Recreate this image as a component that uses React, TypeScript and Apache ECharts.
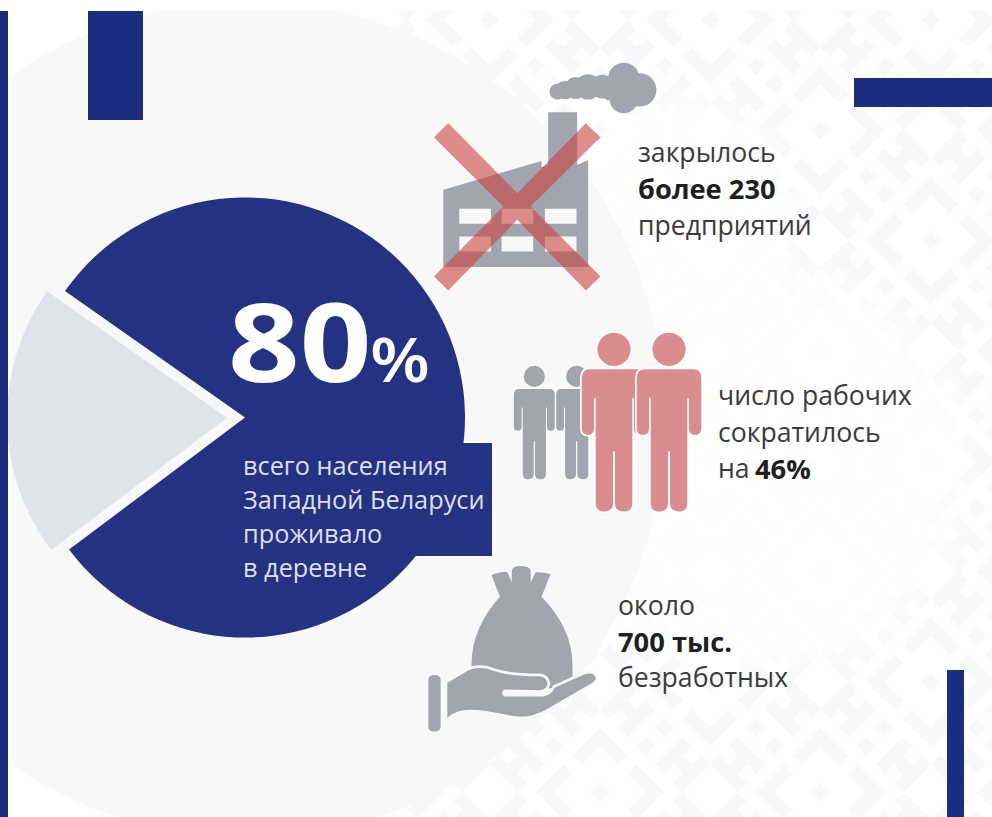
import React, { useEffect, useRef } from "react";
import * as echarts from "echarts";

const sharesLabels = ["в деревне", "в городе"];
const sharesValues = [80, 20];
const bigNumber = "80";
const bigUnit = "%";
const ruralLines = ["всего населения", "Западной Беларуси", "проживало", "в деревне"];
const factoryLines = ["закрылось", "более 230", "предприятий"];
const workersLines = ["число рабочих", "сократилось"];
const workersLast = ["на", "46%"];
const jobLines = ["около", "700 тыс.", "безработных"];

const NAVY = "#1b2d7e";
const PIE = "#253282";
const GREY = "#a2a5ae";
const PINK = "#da8d8e";
const FONT = "'Open Sans'";

const circ = (cx: number, cy: number, r: number) =>
  `M ${cx - r} ${cy} A ${r} ${r} 0 1 0 ${cx + r} ${cy} A ${r} ${r} 0 1 0 ${cx - r} ${cy} Z `;

const personD =
  circ(0, 88, 50) +
  "M -72 148 Q -97 148 -97 175 L -97 325 Q -97 345 -78 345 Q -60 345 -60 325 L -60 235 L -55 235 L -55 550 Q -55 575 -30 575 Q -3 575 -3 550 L -3 395 L 3 395 L 3 550 Q 3 575 30 575 Q 55 575 55 550 L 55 235 L 60 235 L 60 325 Q 60 345 78 345 Q 97 345 97 325 L 97 175 Q 97 148 72 148 Z";
const factoryD =
  "M 70 420 L 365 333 L 365 352 L 385 345 L 385 187 L 472 187 L 472 345 L 505 330 L 505 652 L 70 652 Z " +
  "M 118 477 L 118 522 L 213 522 L 213 477 Z M 245 477 L 245 522 L 340 522 L 340 477 Z M 375 477 L 375 522 L 470 522 L 470 477 Z " +
  "M 118 560 L 118 605 L 213 605 L 213 560 Z M 245 560 L 245 605 L 340 605 L 340 560 Z M 375 560 L 375 605 L 470 605 L 470 560 Z";
const crossD =
  "M 85 220 L 292 430 L 498 220 L 542 262 L 332 470 L 542 680 L 498 722 L 292 510 L 85 722 L 42 680 L 250 470 L 42 262 Z";
const smokeD = [
  [413, 125, 24], [436, 120, 28], [468, 114, 33], [505, 111, 38], [548, 110, 36],
  [612, 85, 47], [660, 120, 50], [612, 148, 42], [570, 128, 24],
].map(([x, y, r]) => circ(x, y, r)).join("");
const bagD =
  "M 215 60 Q 240 50 262 50 L 275 82 L 276 45 Q 280 33 300 33 Q 328 33 332 45 L 333 82 L 347 52 Q 370 50 392 58 L 365 125 Q 458 220 458 330 L 458 400 L 155 400 L 155 325 Q 155 220 240 125 Z";
const handD =
  "M 78 382 L 140 345 Q 165 330 205 338 Q 255 360 360 360 Q 387 365 387 388 Q 382 408 360 410 L 255 408 Q 245 414 255 421 L 368 421 Q 392 418 402 395 L 495 354 Q 528 345 532 370 Q 532 380 515 390 L 385 465 Q 330 498 270 486 Q 175 465 130 470 Q 100 475 78 498 Z";
const cuffD =
  "M 25 375 Q 25 360 43 360 Q 62 360 62 375 L 62 515 Q 62 530 43 530 Q 25 530 25 515 Z";

// Woven ornament: small squares on a 45-degree grid, all in one path.
function ornamentPath() {
  const cell = 13;
  const period = 12;
  const h = (cell * Math.SQRT2) / 2;
  const mod = (a: number) => ((a % period) + period) % period;
  let d = "";
  for (let u = -70; u < 130; u++) {
    for (let v = -70; v < 130; v++) {
      const cx = 600 + ((u - v) * cell * Math.SQRT2) / 2;
      const cy = 20 + ((u + v) * cell * Math.SQRT2) / 2;
      if (cx < 380 || cx > 1010 || cy < -20 || cy > 840) continue;
      const a = Math.abs(mod(u) - 6);
      const b = Math.abs(mod(v) - 6);
      const m = Math.max(a, b);
      const n = Math.min(a, b);
      const on = m === 0 || (m === 3 && n !== 0) || (m === 5 && n % 2 === 0) || (m === 6 && n < 5 && n > 1);
      if (on) d += `M ${cx} ${cy - h} L ${cx + h} ${cy} L ${cx} ${cy + h} L ${cx - h} ${cy} Z `;
    }
  }
  return d;
}

echarts.graphic.registerShape("person", echarts.graphic.extendPath(personD, {}));
echarts.graphic.registerShape("factory", echarts.graphic.extendPath(factoryD, {}));
echarts.graphic.registerShape("cross", echarts.graphic.extendPath(crossD, {}));
echarts.graphic.registerShape("smoke", echarts.graphic.extendPath(smokeD, {}));
echarts.graphic.registerShape("bag", echarts.graphic.extendPath(bagD, {}));
echarts.graphic.registerShape("hand", echarts.graphic.extendPath(handD, {}));
echarts.graphic.registerShape("cuff", echarts.graphic.extendPath(cuffD, {}));
echarts.graphic.registerShape("ornament", echarts.graphic.extendPath(ornamentPath(), {}));

function label(text: string, x: number, y: number, size: number, fill: string, weight = 400, sx = 1) {
  return {
    type: "text",
    z: 8,
    silent: true,
    x,
    y,
    scaleX: sx,
    style: {
      text,
      x: 0,
      y: 0,
      fill,
      font: `${weight} ${size}px ${FONT}`,
      verticalAlign: "middle",
      align: "left",
    },
  };
}

function personAt(x: number, y: number, scale: number, fill: string, halo?: boolean) {
  const base = { type: "person", z: 6, silent: true, x, y, scaleX: scale, scaleY: scale };
  const fillEl = { ...base, style: { fill } };
  return halo
    ? [{ ...base, style: { fill: "#ffffff", stroke: "#ffffff", lineWidth: 10 } }, fillEl]
    : [fillEl];
}

function icon(type: string, ox: number, oy: number, fill: string, z = 6, extra: any = {}) {
  return {
    type,
    z,
    silent: true,
    x: ox,
    y: oy,
    scaleX: 1 / 3,
    scaleY: 1 / 3,
    style: { fill, ...extra },
  };
}

function glow(cx: number, cy: number, r: number) {
  return {
    type: "circle",
    z: 0,
    silent: true,
    shape: { cx, cy, r },
    style: {
      fill: {
        type: "radial",
        x: 0.5,
        y: 0.5,
        r: 0.5,
        colorStops: [
          { offset: 0, color: "rgba(255,255,255,1)" },
          { offset: 0.7, color: "rgba(255,255,255,0.95)" },
          { offset: 1, color: "rgba(255,255,255,0)" },
        ],
      },
    },
  };
}

const TEXT = "#3a3a3c";
const STRONG = "#1f1f21";
const LIGHT_SIZE = 26.6;
const BOLD_SIZE = 27.3;

export default function App() {
  const ref = useRef<HTMLDivElement>(null);
  useEffect(() => {
    const chart = echarts.init(ref.current!, undefined, { renderer: "svg" });
    const elements: any[] = [
      { type: "ornament", z: 0, silent: true, style: { fill: "#f7f8fa" } },
      glow(760, 470, 225),
      glow(680, 215, 130),
      { type: "circle", z: 1, silent: true, shape: { cx: 248, cy: 420, r: 418 }, style: { fill: "#f8f8f9" } },
      { type: "rect", z: 1, silent: true, shape: { x: 0, y: 0, width: 992, height: 11 }, style: { fill: "#fff" } },
      { type: "rect", z: 1, silent: true, shape: { x: 0, y: 0, width: 12, height: 817 }, style: { fill: "#fff" } },
      { type: "rect", z: 3, silent: true, shape: { x: 0, y: 11, width: 8, height: 806 }, style: { fill: NAVY } },
      { type: "rect", z: 3, silent: true, shape: { x: 88, y: 11, width: 55, height: 109 }, style: { fill: NAVY } },
      { type: "rect", z: 3, silent: true, shape: { x: 854, y: 78, width: 138, height: 29 }, style: { fill: NAVY } },
      { type: "rect", z: 3, silent: true, shape: { x: 947, y: 670, width: 17, height: 147 }, style: { fill: NAVY } },
      { type: "rect", z: 3, silent: true, shape: { x: 400, y: 443, width: 92, height: 113 }, style: { fill: PIE } },

      label(bigNumber, 228, 340, 110, "#ffffff", 700, 1.14),
      label(bigUnit, 370, 358, 62, "#ffffff", 600, 1.12),
      ...ruralLines.map((t, i) => label(t, 243, 465 + i * 34, 25.3, "#dcdfec")),

      icon("factory", 420, 50, GREY),
      icon("smoke", 420, 50, GREY),
      icon("cross", 420, 50, "rgba(203,65,65,0.6)", 7),
      label(factoryLines[0], 638, 152, LIGHT_SIZE, TEXT),
      label(factoryLines[1], 638, 188, BOLD_SIZE, STRONG, 700),
      label(factoryLines[2], 638, 225, LIGHT_SIZE, TEXT),

      ...personAt(500 + 103 / 3, 320 + 113.5 / 3, 0.632 / 3, GREY),
      ...personAt(500 + 230 / 3, 320 + 113.5 / 3, 0.632 / 3, GREY),
      ...personAt(500 + 342 / 3, 320, 1 / 3, PINK, true),
      ...personAt(500 + 507 / 3, 320, 1 / 3, PINK, true),
      ...workersLines.map((t, i) => label(t, 718, 395 + i * 37, LIGHT_SIZE, TEXT)),
      label(workersLast[0], 718, 468, LIGHT_SIZE, TEXT),
      label(workersLast[1], 755, 468, BOLD_SIZE, STRONG, 700),

      icon("bag", 420, 555, GREY),
      icon("hand", 420, 555, GREY, 7, { stroke: "#f8f8f9", lineWidth: 8 }),
      icon("cuff", 420, 555, GREY, 7),
      label(jobLines[0], 618, 605, LIGHT_SIZE, TEXT),
      label(jobLines[1], 618, 641, BOLD_SIZE, STRONG, 700),
      label(jobLines[2], 618, 677, LIGHT_SIZE, TEXT),
    ];

    chart.setOption({
      animation: false,
      backgroundColor: "#ffffff",
      graphic: { elements },
      series: [
        {
          type: "pie",
          z: 2,
          silent: true,
          center: [245, 417.5],
          radius: 220,
          startAngle: 144.9,
          selectedMode: "single",
          selectedOffset: 18,
          label: { show: false },
          labelLine: { show: false },
          emphasis: { disabled: true },
          data: sharesValues.map((value, i) => ({
            name: sharesLabels[i],
            value,
            selected: i === 1,
            itemStyle: { color: i === 0 ? PIE : "#e0e3e7" },
          })),
        },
      ],
    });
    return () => chart.dispose();
  }, []);
  return <div ref={ref} style={{ position: "fixed", left: 0, top: 0, width: 992, height: 817 }} />;
}
